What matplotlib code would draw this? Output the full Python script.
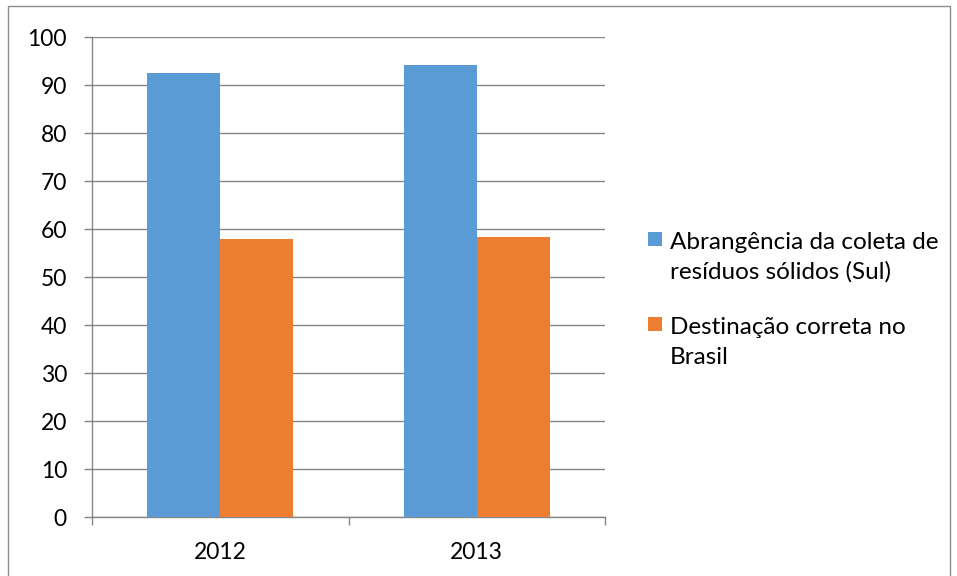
import numpy as np
import matplotlib.pyplot as plt
from matplotlib.patches import Rectangle

plt.rcParams['font.family'] = ['Lato', 'DejaVu Sans']

years = ['2012', '2013']
coleta_sul = [92.5, 94.1]
destinacao_brasil = [57.9, 58.3]
series_labels = [['Abrangência da coleta de', 'resíduos sólidos (Sul)'],
                 ['Destinação correta no', 'Brasil']]
y_ticks = list(range(0, 101, 10))

BLUE = '#5B9BD5'
ORANGE = '#ED7D31'
GRID = '#868686'

W, H = 957, 576
fig = plt.figure(figsize=(W / 100, H / 100), dpi=100)


def px(x, y):
    # pixel coords (top-left origin) -> figure fraction
    return x / W, 1 - y / H


# thin frame around the chart area
fig.patches.append(Rectangle((8 / W, -0.01), 942 / W, 1.01 - 6 / H,
                             transform=fig.transFigure, fill=False,
                             edgecolor='#8c8c8c', linewidth=1))

ax = fig.add_axes([92 / W, 1 - 517 / H, 513 / W, 480 / H])

x = np.arange(len(years))
w = 0.285
ax.bar(x - w / 2, coleta_sul, w, color=BLUE, zorder=3)
ax.bar(x + w / 2, destinacao_brasil, w, color=ORANGE, zorder=3)

ax.set_xlim(-0.5, len(years) - 0.5)
ax.set_ylim(0, 100)
ax.set_yticks(y_ticks)
ax.yaxis.grid(True, color=GRID, linewidth=1)
ax.set_axisbelow(True)

ax.set_xticks(x)
ax.set_xticklabels(years)
ax.set_xticks(np.arange(len(years) + 1) - 0.5, minor=True)
ax.tick_params(axis='x', which='major', length=0, pad=18, labelsize=16.5)
ax.tick_params(axis='x', which='minor', length=6, color=GRID, width=1)
ax.tick_params(axis='y', length=6, color=GRID, width=1, pad=12, labelsize=16.5)

for side in ['top', 'right']:
    ax.spines[side].set_visible(False)
for side in ['left', 'bottom']:
    ax.spines[side].set_color(GRID)
    ax.spines[side].set_linewidth(1)

# legend: square marker beside the first line of each entry
entry_tops = [232, 317]
for color, lines, top in zip([BLUE, ORANGE], series_labels, entry_tops):
    fig.patches.append(Rectangle(px(648, top + 14), 14 / W, 14 / H,
                                 transform=fig.transFigure,
                                 facecolor=color, edgecolor='none'))
    for i, line in enumerate(lines):
        fig.text(*px(670, top + 17 + 30 * i), line, fontsize=17.5,
                 va='baseline', ha='left', color='black')

fig.savefig('out.png', dpi=100)
